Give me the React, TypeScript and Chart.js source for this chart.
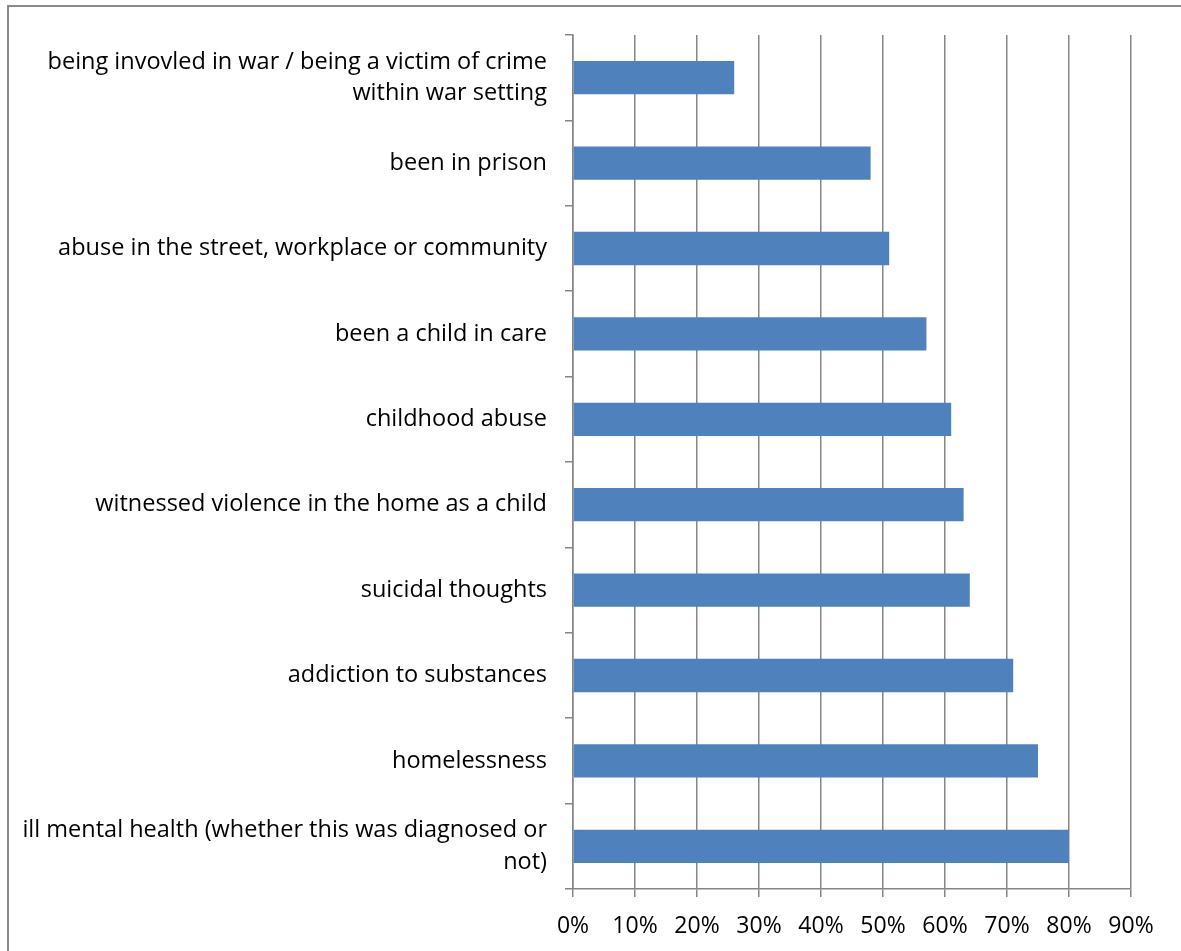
import React, { useEffect, useRef } from "react";
import { Chart, registerables } from "chart.js";

Chart.register(...registerables);

const categories: (string | string[])[] = [
  ["being invovled in war / being a victim of crime", "within war setting"],
  "been in prison",
  "abuse in the street, workplace or community",
  "been a child in care",
  "childhood abuse",
  "witnessed violence in the home as a child",
  "suicidal thoughts",
  "addiction to substances",
  "homelessness",
  ["ill mental health (whether this was diagnosed or", "not)"],
];

const percentValues: number[] = [26, 48, 51, 57, 61, 63, 64, 71, 75, 80];

const axisMax = 90;
const axisStep = 10;

const FONT = "'Open Sans', 'Liberation Sans', sans-serif";
const GRID = "#868686";

export default function App() {
  const ref = useRef<HTMLCanvasElement | null>(null);

  useEffect(() => {
    if (!ref.current) return;
    const chart = new Chart(ref.current, {
      type: "bar",
      data: {
        labels: categories,
        datasets: [
          {
            data: percentValues,
            backgroundColor: "#4F81BD",
            borderWidth: 0,
            barPercentage: 0.39,
            categoryPercentage: 1,
          },
        ],
      },
      options: {
        indexAxis: "y",
        animation: false,
        responsive: false,
        devicePixelRatio: 1,
        layout: { padding: { left: 0, top: 35, right: 50, bottom: 0 } },
        plugins: {
          legend: { display: false },
          tooltip: { enabled: false },
        },
        scales: {
          x: {
            min: 0,
            max: axisMax,
            ticks: {
              stepSize: axisStep,
              padding: 16,
              color: "#000",
              font: { family: FONT, size: 23, lineHeight: 1.2 },
              callback: (v: any) => `${v}%`,
            },
            grid: {
              color: GRID,
              lineWidth: 1.5,
              tickLength: 8,
              drawTicks: true,
            },
            border: { color: GRID, width: 1.5 },
            afterFit: (scale: any) => {
              scale.height = 62;
              scale.paddingLeft = 0;
              scale.paddingRight = 0;
            },
          },
          y: {
            ticks: {
              padding: 18,
              color: "#000",
              font: { family: FONT, size: 23.5, lineHeight: 1.35 },
            },
            grid: {
              offset: true,
              drawOnChartArea: false,
              color: GRID,
              lineWidth: 1.5,
              tickLength: 8,
            },
            border: { color: GRID, width: 1.5 },
            afterFit: (scale: any) => {
              scale.width = 573;
              scale.paddingTop = 0;
              scale.paddingBottom = 0;
            },
          },
        },
      },
    });
    return () => chart.destroy();
  }, []);

  return (
    <div style={{ position: "absolute", left: 0, top: 0, width: 1181, height: 951, overflow: "hidden", background: "#fff" }}>
      <div
        style={{
          position: "absolute",
          left: 7,
          top: 5,
          width: 1174,
          height: 946,
          borderLeft: "2px solid #8a8a8a",
          borderTop: "2px solid #8a8a8a",
          boxSizing: "border-box",
        }}
      />
      <canvas ref={ref} width={1181} height={951} style={{ position: "absolute", left: 0, top: 0 }} />
    </div>
  );
}
